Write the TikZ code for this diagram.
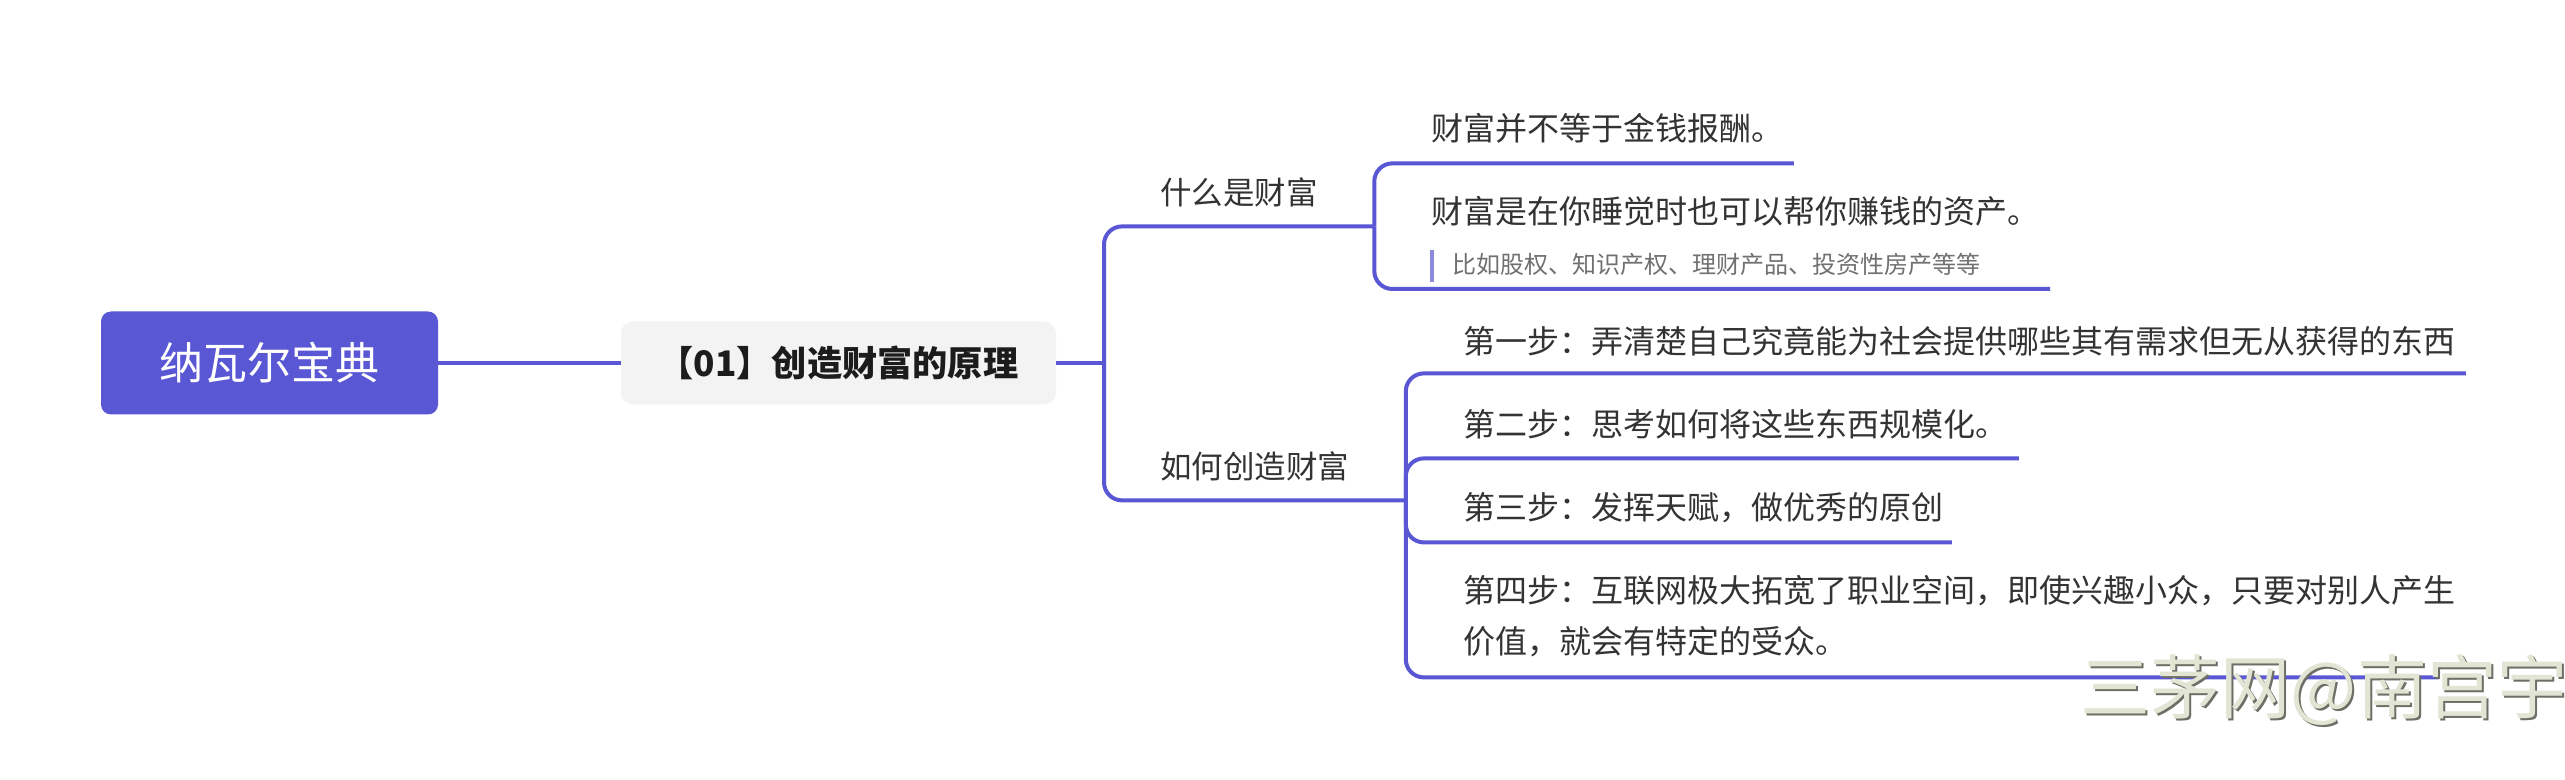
\documentclass[tikz,border=0pt]{standalone}
\usepackage{fontspec}
\setmainfont{Noto Sans CJK SC}
\definecolor{mainblue}{RGB}{89,87,212}
\definecolor{boxgray}{RGB}{243,243,243}
\definecolor{txtdark}{RGB}{28,28,28}
\definecolor{txt}{RGB}{51,51,51}
\definecolor{notegray}{RGB}{112,112,112}
\definecolor{notebarc}{RGB}{140,138,224}
\definecolor{wmfill}{RGB}{226,228,212}
\definecolor{wmshadow}{RGB}{110,110,102}
\newcommand{\lbox}[2]{\makebox[#1][l]{#2}}
\begin{document}
\begin{tikzpicture}[x=0.5pt,y=-0.5pt,
  conn/.style={draw=mainblue, line width=2pt, rounded corners=9pt},
  rootbox/.style={fill=mainblue, rounded corners=5pt, minimum width=168.5pt, minimum height=51.5pt, inner sep=0pt, text=white, font=\fontsize{22}{26}\selectfont},
  topicbox/.style={fill=boxgray, rounded corners=6pt, minimum width=217.5pt, minimum height=41.5pt, inner sep=0pt, text=txtdark, font=\bfseries\fontsize{17.6}{20}\selectfont},
  branch/.style={anchor=west, inner xsep=28pt, inner ysep=0pt, minimum height=34pt, text=txt, font=\fontsize{15.75}{19}\selectfont},
  leaf/.style={anchor=west, inner sep=0pt, text=txt, font=\fontsize{16}{25.5}\selectfont},
  notetext/.style={anchor=west, inner sep=0pt, text=notegray, font=\fontsize{12}{14}\selectfont},
  notebar/.style={draw=notebarc, line width=1.8pt},
  wm/.style={inner sep=0pt, font=\fontsize{35}{40}\selectfont}
]
\fill[white] (0,0) rectangle (2565,780);
\useasboundingbox (0,0) rectangle (2565,780);

% nodes
\node[rootbox] (root) at (269.5,363) {纳瓦尔宝典};
\node[topicbox] (main) at (838.5,363) {【01】创造财富的原理};
\node[branch] (b1) at (1104,192) {什么是财富};
\node[branch] (b2) at (1104,466) {如何创造财富};

\node[leaf, minimum height=35pt] (c1) at (1431,128) {\lbox{181pt}{财富并不等于金钱报酬。}};
\node[leaf] (c2) at (1431,211) {\lbox{309.5pt}{财富是在你睡觉时也可以帮你赚钱的资产。}};
\node[notetext] (n2) at (1452,264) {比如股权、知识产权、理财产品、投资性房产等等};
\draw[notebar] (1432,250) -- (1432,282);
\coordinate (u2) at (2050,289);

\node[leaf, minimum height=32pt] (s1) at (1463,341) {\lbox{501pt}{第一步：弄清楚自己究竟能为社会提供哪些其有需求但无从获得的东西}};
\node[leaf, minimum height=34pt] (s2) at (1463,424) {\lbox{277.5pt}{第二步：思考如何将这些东西规模化。}};
\node[leaf, minimum height=34pt] (s3) at (1463,508) {\lbox{244pt}{第三步：发挥天赋，做优秀的原创}};
\node[leaf, minimum height=60.5pt, text width=487.5pt, align=left] (s4) at (1463,616.5) {\lbox{487.5pt}{第四步：互联网极大拓宽了职业空间，即使兴趣小众，只要对别人产生}\\\lbox{487.5pt}{价值，就会有特定的受众。}};

% connectors
\draw[conn] (root.east) -- (main.west);
\coordinate (j1) at (b1.south west |- main.east);
\draw[conn] (main.east) -- (j1);
\draw[conn] (j1) |- (b1.south east);
\draw[conn] (j1) |- (b2.south east);
\draw[conn] (b1.south east) |- (c1.south east);
\draw[conn] (b1.south east) |- (u2);
\draw[conn] (b2.south east) |- (s1.south east);
\draw[conn] (b2.south east) |- (s2.south east);
\draw[conn] (b2.south east) |- (s3.south east);
\draw[conn] (b2.south east) |- (s4.south east);

% watermark
\node[wm, text=wmshadow] (wmsh) at (2326,692) {三茅网@南宫宇};
\node[wm, text=wmfill] (wmark) at (2324,690) {三茅网@南宫宇};
\end{tikzpicture}
\end{document}
